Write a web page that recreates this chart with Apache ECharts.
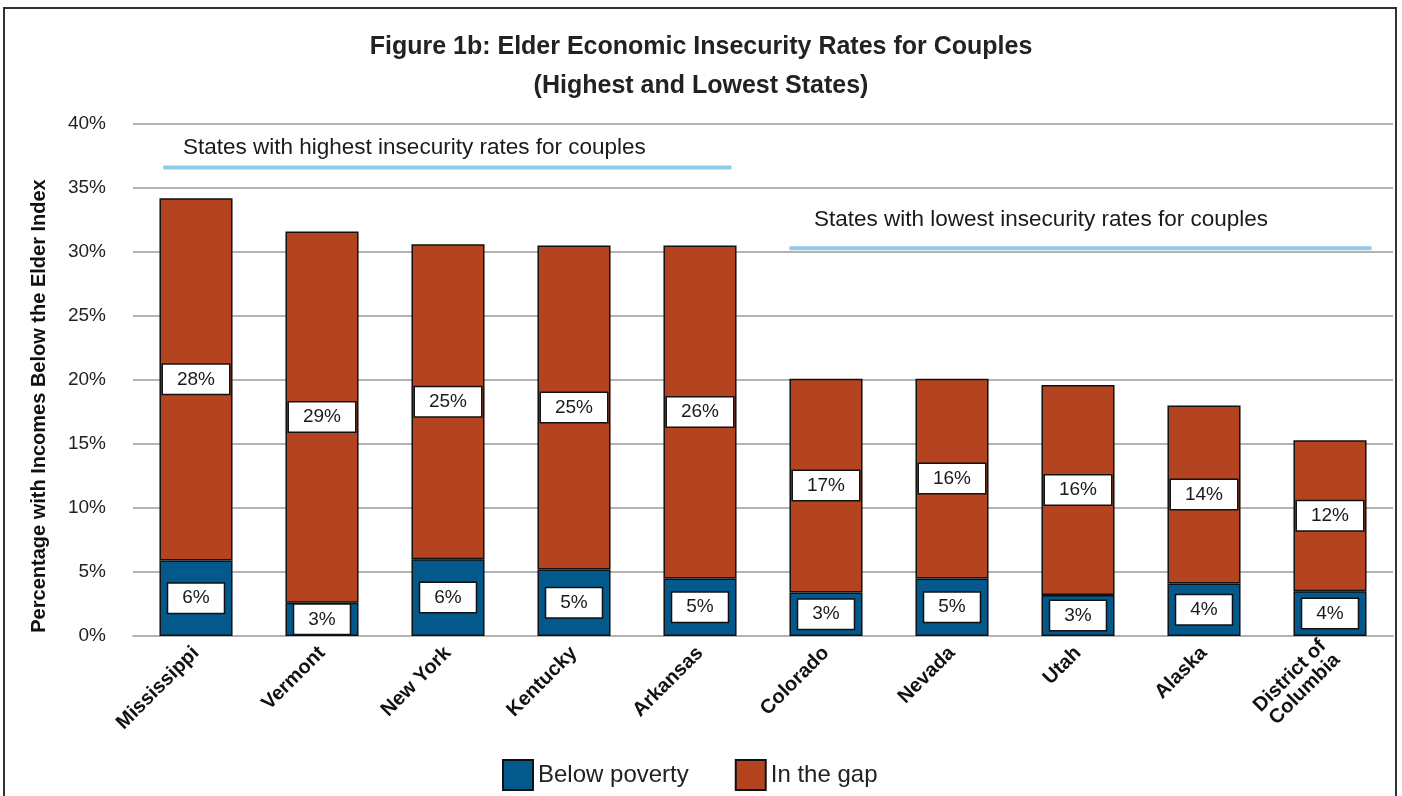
<!DOCTYPE html>
<html>
<head>
<meta charset="utf-8">
<script src="https://cdn.jsdelivr.net/npm/echarts@6/dist/echarts.min.js"></script>
<style>
html,body{margin:0;padding:0;background:#fff;}
#main{width:1402px;height:796px;}
</style>
</head>
<body>
<div id="main"></div>
<script>
const categories = ['Mississippi','Vermont','New York','Kentucky','Arkansas','Colorado','Nevada','Utah','Alaska','District of\nColumbia'];
const belowPoverty = [5.9, 2.6, 6.0, 5.2, 4.5, 3.4, 4.5, 3.2, 4.1, 3.5];
const inTheGap = [28.3, 29.0, 24.6, 25.3, 26.0, 16.7, 15.6, 16.4, 13.9, 11.8];
const seriesNames = ['Below poverty', 'In the gap'];
const highestBand = [[0.24, 36.6], [4.75, 36.6]];
const lowestBand = [[5.21, 30.3], [9.83, 30.3]];
const bandTexts = ['States with highest insecurity rates for couples', 'States with lowest insecurity rates for couples'];

const NARROW = '"Liberation Sans Narrow", "Liberation Sans", Arial, sans-serif';
const BLUE = '#03588c';
const RED = '#b3441f';

const chart = echarts.init(document.getElementById('main'));

const labelStyle = {
  show: true,
  position: 'inside',
  backgroundColor: '#fff',
  borderColor: '#111',
  borderWidth: 1.5,
  padding: [6, 14, 4, 14],
  color: '#1a1a1a',
  fontFamily: NARROW,
  fontSize: 19,
  formatter: p => Math.round(p.value) + '%'
};

chart.setOption({
  animation: false,
  backgroundColor: '#fff',
  title: {
    text: 'Figure 1b: Elder Economic Insecurity Rates for Couples\n(Highest and Lowest States)',
    left: 'center',
    top: 23,
    textStyle: {
      fontFamily: NARROW,
      fontWeight: 'bold',
      fontSize: 25,
      lineHeight: 39,
      color: '#222'
    }
  },
  legend: {
    left: 497,
    top: 754,
    itemWidth: 30,
    itemHeight: 30,
    itemGap: 46,
    icon: 'rect',
    data: seriesNames,
    textStyle: { fontFamily: NARROW, fontSize: 24, color: '#222' }
  },
  grid: { left: 133, right: 9, top: 124, bottom: 160 },
  xAxis: [{
    type: 'category',
    data: categories,
    axisLine: { show: true, lineStyle: { color: '#b3b3b3', width: 2 } },
    axisTick: { show: false },
    axisLabel: {
      interval: 0,
      rotate: 45,
      margin: 14,
      fontFamily: NARROW,
      fontWeight: 'bold',
      fontSize: 20,
      lineHeight: 20,
      color: '#111'
    }
  }, {
    type: 'value',
    min: 0,
    max: 10,
    show: false
  }],
  yAxis: {
    type: 'value',
    min: 0,
    max: 40,
    interval: 5,
    name: 'Percentage with Incomes Below the Elder Index',
    nameLocation: 'middle',
    nameGap: 84,
    nameTextStyle: {
      fontFamily: '"Liberation Sans", Arial, sans-serif',
      fontWeight: 'bold',
      fontSize: 20,
      color: '#111',
      padding: [0, 52, 0, 0]
    },
    axisLine: { show: false },
    axisTick: { show: false },
    axisLabel: {
      formatter: '{value}%',
      margin: 27,
      fontFamily: NARROW,
      fontSize: 19,
      color: '#222'
    },
    splitLine: { lineStyle: { color: '#b3b3b3', width: 2 } }
  },
  series: [{
    name: seriesNames[0],
    type: 'bar',
    stack: 'total',
    barWidth: '58%',
    data: belowPoverty,
    itemStyle: { color: BLUE, borderColor: '#111', borderWidth: 1.5 },
    label: labelStyle
  }, {
    name: seriesNames[1],
    type: 'bar',
    stack: 'total',
    barWidth: '58%',
    data: inTheGap,
    itemStyle: { color: RED, borderColor: '#111', borderWidth: 1.5 },
    label: labelStyle
  }, {
    type: 'line',
    xAxisIndex: 1,
    data: highestBand,
    symbol: 'none',
    silent: true,
    lineStyle: { color: '#92caec', width: 4 },
    z: 5
  }, {
    type: 'line',
    xAxisIndex: 1,
    data: lowestBand,
    symbol: 'none',
    silent: true,
    lineStyle: { color: '#92caec', width: 4 },
    z: 5
  }],
  graphic: [{
    type: 'rect',
    shape: { x: 4, y: 8, width: 1392, height: 800 },
    style: { fill: 'none', stroke: '#333', lineWidth: 2 },
    silent: true,
    z: -1
  }, {
    type: 'text',
    left: 183,
    top: 136,
    style: { text: bandTexts[0], fontFamily: NARROW, fontSize: 22.5, fill: '#1a1a1a' }
  }, {
    type: 'text',
    left: 814,
    top: 208,
    style: { text: bandTexts[1], fontFamily: NARROW, fontSize: 22.5, fill: '#1a1a1a' }
  }]
});
</script>
</body>
</html>
